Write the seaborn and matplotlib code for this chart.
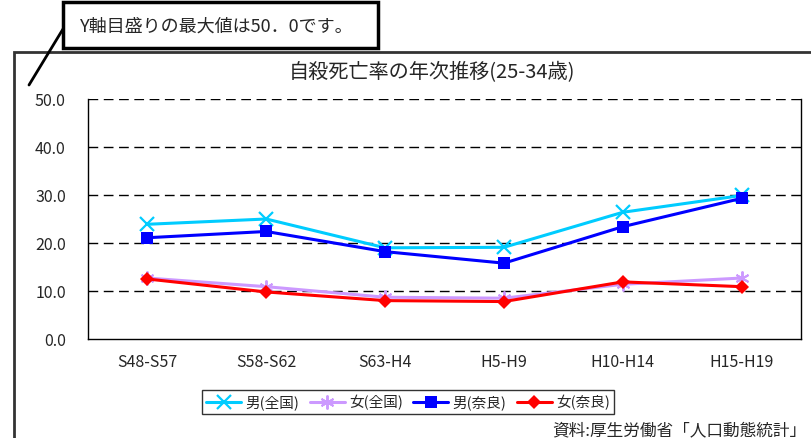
"""自殺死亡率の年次推移 (25-34歳)"""

import pandas as pd
import matplotlib.pyplot as plt
from matplotlib.patches import Rectangle
from matplotlib.lines import Line2D
import seaborn as sns

periods = ["S48-S57", "S58-S62", "S63-H4", "H5-H9", "H10-H14", "H15-H19"]
male_national = [23.9, 25.0, 19.0, 19.1, 26.4, 29.9]
female_national = [12.7, 10.9, 8.7, 8.5, 11.4, 12.7]
male_nara = [21.1, 22.4, 18.2, 15.8, 23.4, 29.3]
female_nara = [12.5, 9.8, 8.0, 7.8, 11.9, 10.9]
series_names = ["男(全国)", "女(全国)", "男(奈良)", "女(奈良)"]
yticks = [0, 10, 20, 30, 40, 50]

sns.set_style("white")
plt.rcParams["font.family"] = ["Noto Sans CJK JP", "DejaVu Sans"]

df = pd.DataFrame({
    "period": periods * 4,
    "rate": male_national + female_national + male_nara + female_nara,
    "series": [s for s in series_names for _ in periods],
})

styles = {
    "男(全国)": dict(color="#00CCFF", marker="x", ms=10, mew=1.6),
    "女(全国)": dict(color="#CC99FF", marker=(6, 2, 0), ms=10, mew=1.4),
    "男(奈良)": dict(color="#0000FF", marker="s", ms=8, mew=0),
    "女(奈良)": dict(color="#FF0000", marker="D", ms=7, mew=0),
}

fig = plt.figure(figsize=(8.11, 4.39), dpi=100)
ax = fig.add_axes([88 / 811, 1 - 340 / 439, (801 - 88) / 811, 240 / 439])

for name in series_names:
    st = styles[name]
    sns.lineplot(data=df[df["series"] == name], x="period", y="rate", ax=ax,
                 color=st["color"], marker=st["marker"], markersize=st["ms"],
                 markeredgewidth=st["mew"], markeredgecolor=st["color"],
                 linewidth=2.2, sort=False, legend=False)

ax.set_xlim(-0.5, len(periods) - 0.5)
ax.set_ylim(0, 50)
ax.set_yticks(yticks)
ax.set_yticklabels([f"{v:.1f}" for v in yticks], fontsize=11.5)
ax.set_xticks(range(len(periods)))
ax.set_xticklabels(periods, fontsize=11.5)
ax.tick_params(axis="y", length=0, pad=16)
ax.tick_params(axis="x", which="major", length=0, pad=10)
ax.set_xticks([i + 0.5 for i in range(len(periods) - 1)], minor=True)
ax.tick_params(axis="x", which="minor", direction="in", length=4, width=1, color="black")
ax.set_xlabel("")
ax.set_ylabel("")
for v in yticks[1:]:
    ax.axhline(v, color="black", lw=1, ls=(0, (7, 4)), zorder=1)
for sp in ax.spines.values():
    sp.set_visible(True)
    sp.set_color("black")
    sp.set_linewidth(1)
ax.spines["top"].set_visible(False)

handles = [Line2D([], [], color=styles[n]["color"], marker=styles[n]["marker"],
                  markersize=styles[n]["ms"], markeredgewidth=styles[n]["mew"],
                  lw=2.2) for n in series_names]
leg = fig.legend(handles, series_names, loc="center", bbox_to_anchor=(408 / 811, 1 - 403 / 439),
                 ncol=4, frameon=True, fancybox=False, fontsize=10.5, handlelength=2.4,
                 columnspacing=0.7, handletextpad=0.3, borderpad=0.3, borderaxespad=0)
leg.get_frame().set_edgecolor("black")
leg.get_frame().set_linewidth(1)

fig.text(432 / 811, 1 - 73 / 439, "自殺死亡率の年次推移(25-34歳)", ha="center", va="center",
         fontsize=14.5)
fig.text(806 / 811, 1 - 431 / 439, "資料:厚生労働省「人口動態統計」", ha="right", va="center",
         fontsize=12)

# outer chart frame
fig.patches.append(Rectangle((14 / 811, -0.1), 1.0, 1 - 53 / 439 + 0.1, transform=fig.transFigure,
                             fill=False, edgecolor="#333333", lw=2))
# callout
fig.patches.append(Rectangle((63 / 811, 1 - 49 / 439), 315 / 811, 46 / 439, transform=fig.transFigure,
                             facecolor="white", edgecolor="black", lw=2.5))
fig.text(80 / 811, 1 - 27 / 439, "Y軸目盛りの最大値は50．0です。", ha="left", va="center", fontsize=13)
fig.lines.append(Line2D([29 / 811, 63 / 811], [1 - 86 / 439, 1 - 30 / 439], transform=fig.transFigure,
                        color="black", lw=2))

fig.savefig("out.png", dpi=100)
